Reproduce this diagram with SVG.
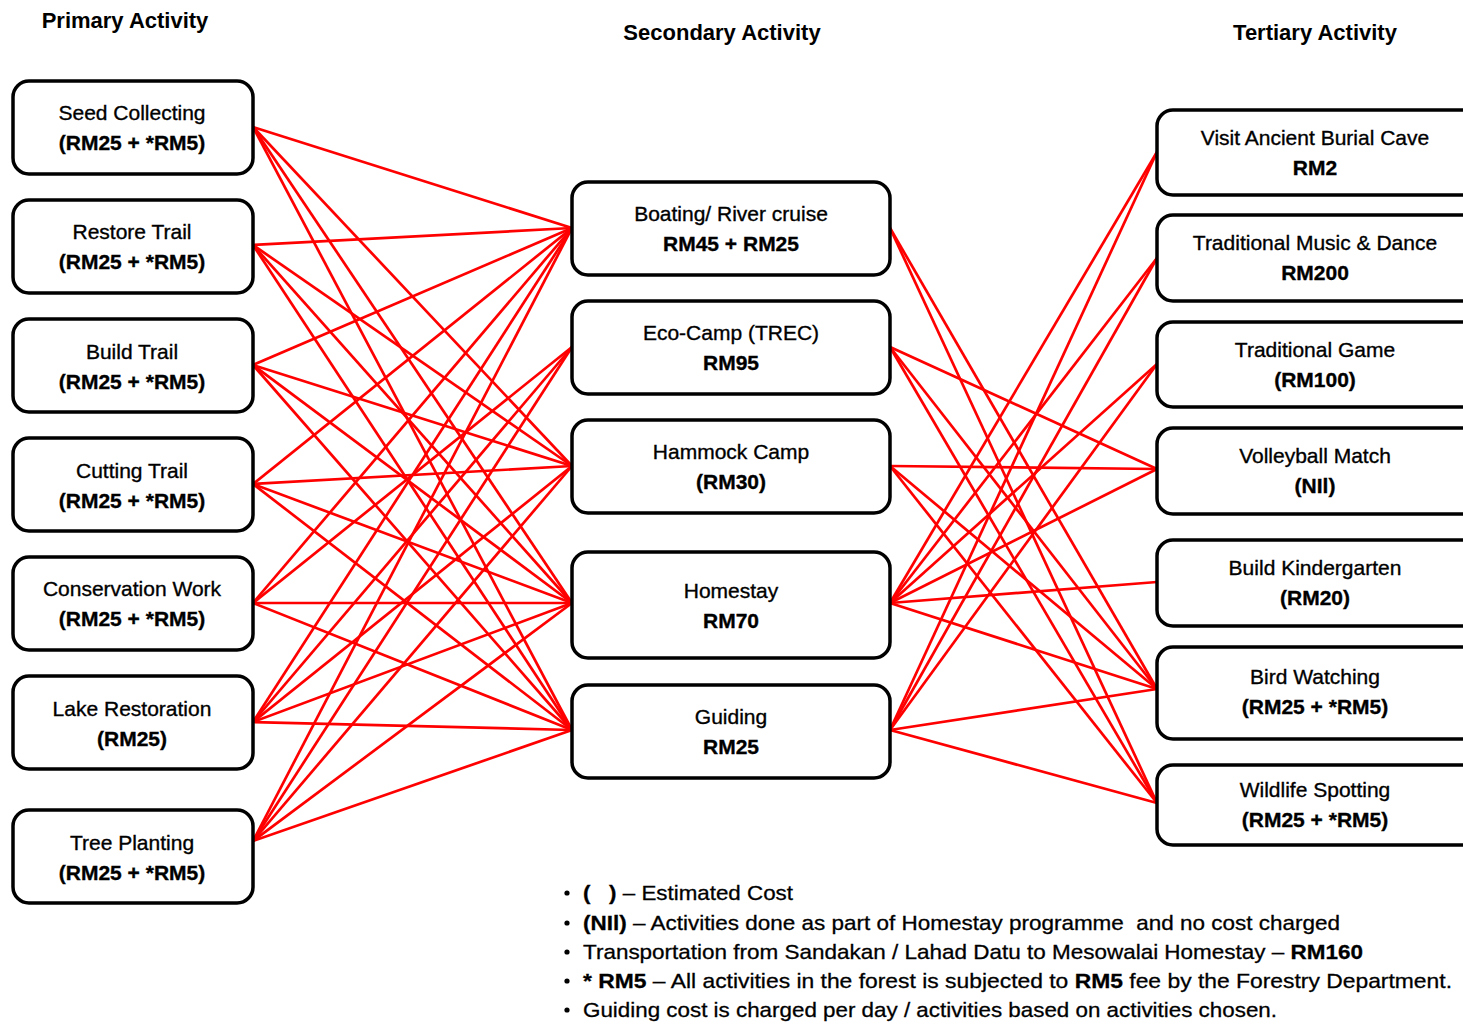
<svg xmlns="http://www.w3.org/2000/svg" width="1463" height="1024" viewBox="0 0 1463 1024">
  <style>
    .box { fill: #ffffff; stroke: #000000; stroke-width: 3.5; }
    .t { font-family: "Liberation Sans", Arial, sans-serif; font-size: 21px; fill: #000000; stroke: #000000; stroke-width: 0.35; text-anchor: middle; }
    .b { font-weight: bold; }
    .title { font-family: "Liberation Sans", Arial, sans-serif; font-size: 22px; font-weight: bold; fill: #000000; text-anchor: middle; }
    .leg { font-family: "Liberation Sans", Arial, sans-serif; font-size: 21px; fill: #000000; stroke: #000000; stroke-width: 0.3; }
    .links line { stroke: #ff0000; stroke-width: 2.7; }
  </style>

  <rect width="1463" height="1024" fill="#ffffff"/>

  <!-- column headings -->
  <text class="title" x="125" y="28">Primary Activity</text>
  <text class="title" x="722" y="40">Secondary Activity</text>
  <text class="title" x="1315" y="40">Tertiary Activity</text>

  <!-- connectors: primary -> secondary -> tertiary -->
  <g id="connectors" class="links">
    <!-- Seed Collecting -->
    <line x1="253" y1="127" x2="572" y2="228"/>
    <line x1="253" y1="127" x2="572" y2="466"/>
    <line x1="253" y1="127" x2="572" y2="603"/>
    <line x1="253" y1="127" x2="572" y2="730"/>
    <!-- Restore Trail -->
    <line x1="253" y1="245" x2="572" y2="228"/>
    <line x1="253" y1="245" x2="572" y2="466"/>
    <line x1="253" y1="245" x2="572" y2="603"/>
    <line x1="253" y1="245" x2="572" y2="730"/>
    <!-- Build Trail -->
    <line x1="253" y1="365" x2="572" y2="228"/>
    <line x1="253" y1="365" x2="572" y2="466"/>
    <line x1="253" y1="365" x2="572" y2="603"/>
    <line x1="253" y1="365" x2="572" y2="730"/>
    <!-- Cutting Trail -->
    <line x1="253" y1="484" x2="572" y2="228"/>
    <line x1="253" y1="484" x2="572" y2="466"/>
    <line x1="253" y1="484" x2="572" y2="603"/>
    <line x1="253" y1="484" x2="572" y2="730"/>
    <!-- Conservation Work -->
    <line x1="253" y1="603" x2="572" y2="228"/>
    <line x1="253" y1="603" x2="572" y2="347"/>
    <line x1="253" y1="603" x2="572" y2="603"/>
    <line x1="253" y1="603" x2="572" y2="730"/>
    <!-- Lake Restoration -->
    <line x1="253" y1="722" x2="572" y2="228"/>
    <line x1="253" y1="722" x2="572" y2="347"/>
    <line x1="253" y1="722" x2="572" y2="466"/>
    <line x1="253" y1="722" x2="572" y2="603"/>
    <line x1="253" y1="722" x2="572" y2="730"/>
    <!-- Tree Planting -->
    <line x1="253" y1="841" x2="572" y2="228"/>
    <line x1="253" y1="841" x2="572" y2="347"/>
    <line x1="253" y1="841" x2="572" y2="466"/>
    <line x1="253" y1="841" x2="572" y2="603"/>
    <line x1="253" y1="841" x2="572" y2="730"/>

    <!-- Boating / River cruise -->
    <line x1="890" y1="228" x2="1157" y2="689"/>
    <line x1="890" y1="228" x2="1157" y2="803"/>
    <!-- Eco-Camp -->
    <line x1="890" y1="347" x2="1157" y2="469"/>
    <line x1="890" y1="347" x2="1157" y2="689"/>
    <line x1="890" y1="347" x2="1157" y2="803"/>
    <!-- Hammock Camp -->
    <line x1="890" y1="466" x2="1157" y2="469"/>
    <line x1="890" y1="466" x2="1157" y2="689"/>
    <line x1="890" y1="466" x2="1157" y2="803"/>
    <!-- Homestay -->
    <line x1="890" y1="603" x2="1157" y2="152"/>
    <line x1="890" y1="603" x2="1157" y2="258"/>
    <line x1="890" y1="603" x2="1157" y2="364"/>
    <line x1="890" y1="603" x2="1157" y2="469"/>
    <line x1="890" y1="603" x2="1157" y2="582"/>
    <line x1="890" y1="603" x2="1157" y2="689"/>
    <!-- Guiding -->
    <line x1="890" y1="730" x2="1157" y2="152"/>
    <line x1="890" y1="730" x2="1157" y2="258"/>
    <line x1="890" y1="730" x2="1157" y2="364"/>
    <line x1="890" y1="730" x2="1157" y2="689"/>
    <line x1="890" y1="730" x2="1157" y2="803"/>
  </g>

  <!-- primary activities -->
  <g id="seed-collecting">
    <rect class="box" x="13" y="81" width="240" height="93" rx="16"/>
    <text class="t" x="132" y="120">Seed Collecting</text>
    <text class="t b" x="132" y="150">(RM25 + *RM5)</text>
  </g>
  <g id="restore-trail">
    <rect class="box" x="13" y="200" width="240" height="93" rx="16"/>
    <text class="t" x="132" y="239">Restore Trail</text>
    <text class="t b" x="132" y="269">(RM25 + *RM5)</text>
  </g>
  <g id="build-trail">
    <rect class="box" x="13" y="319" width="240" height="93" rx="16"/>
    <text class="t" x="132" y="359">Build Trail</text>
    <text class="t b" x="132" y="389">(RM25 + *RM5)</text>
  </g>
  <g id="cutting-trail">
    <rect class="box" x="13" y="438" width="240" height="93" rx="16"/>
    <text class="t" x="132" y="478">Cutting Trail</text>
    <text class="t b" x="132" y="508">(RM25 + *RM5)</text>
  </g>
  <g id="conservation-work">
    <rect class="box" x="13" y="557" width="240" height="93" rx="16"/>
    <text class="t" x="132" y="596">Conservation Work</text>
    <text class="t b" x="132" y="626">(RM25 + *RM5)</text>
  </g>
  <g id="lake-restoration">
    <rect class="box" x="13" y="676" width="240" height="93" rx="16"/>
    <text class="t" x="132" y="716">Lake Restoration</text>
    <text class="t b" x="132" y="746">(RM25)</text>
  </g>
  <g id="tree-planting">
    <rect class="box" x="13" y="810" width="240" height="93" rx="16"/>
    <text class="t" x="132" y="850">Tree Planting</text>
    <text class="t b" x="132" y="880">(RM25 + *RM5)</text>
  </g>

  <!-- secondary activities -->
  <g id="boating">
    <rect class="box" x="572" y="182" width="318" height="93" rx="16"/>
    <text class="t" x="731" y="221">Boating/ River cruise</text>
    <text class="t b" x="731" y="251">RM45 + RM25</text>
  </g>
  <g id="eco-camp">
    <rect class="box" x="572" y="301" width="318" height="93" rx="16"/>
    <text class="t" x="731" y="340">Eco-Camp (TREC)</text>
    <text class="t b" x="731" y="370">RM95</text>
  </g>
  <g id="hammock-camp">
    <rect class="box" x="572" y="420" width="318" height="93" rx="16"/>
    <text class="t" x="731" y="459">Hammock Camp</text>
    <text class="t b" x="731" y="489">(RM30)</text>
  </g>
  <g id="homestay">
    <rect class="box" x="572" y="552" width="318" height="106" rx="16"/>
    <text class="t" x="731" y="598">Homestay</text>
    <text class="t b" x="731" y="628">RM70</text>
  </g>
  <g id="guiding">
    <rect class="box" x="572" y="685" width="318" height="93" rx="16"/>
    <text class="t" x="731" y="724">Guiding</text>
    <text class="t b" x="731" y="754">RM25</text>
  </g>

  <!-- tertiary activities -->
  <g id="burial-cave">
    <rect class="box" x="1157" y="110" width="330" height="85" rx="16"/>
    <text class="t" x="1315" y="145">Visit Ancient Burial Cave</text>
    <text class="t b" x="1315" y="175">RM2</text>
  </g>
  <g id="music-dance">
    <rect class="box" x="1157" y="215" width="330" height="86" rx="16"/>
    <text class="t" x="1315" y="250">Traditional Music &amp; Dance</text>
    <text class="t b" x="1315" y="280">RM200</text>
  </g>
  <g id="traditional-game">
    <rect class="box" x="1157" y="322" width="330" height="85" rx="16"/>
    <text class="t" x="1315" y="357">Traditional Game</text>
    <text class="t b" x="1315" y="387">(RM100)</text>
  </g>
  <g id="volleyball">
    <rect class="box" x="1157" y="428" width="330" height="86" rx="16"/>
    <text class="t" x="1315" y="463">Volleyball Match</text>
    <text class="t b" x="1315" y="493">(NIl)</text>
  </g>
  <g id="kindergarten">
    <rect class="box" x="1157" y="540" width="330" height="86" rx="16"/>
    <text class="t" x="1315" y="575">Build Kindergarten</text>
    <text class="t b" x="1315" y="605">(RM20)</text>
  </g>
  <g id="bird-watching">
    <rect class="box" x="1157" y="647" width="330" height="92" rx="16"/>
    <text class="t" x="1315" y="684">Bird Watching</text>
    <text class="t b" x="1315" y="714">(RM25 + *RM5)</text>
  </g>
  <g id="wildlife-spotting">
    <rect class="box" x="1157" y="765" width="330" height="80" rx="16"/>
    <text class="t" x="1315" y="797">Wildlife Spotting</text>
    <text class="t b" x="1315" y="827">(RM25 + *RM5)</text>
  </g>

  <!-- notes -->
  <g id="notes">
    <g fill="#000000">
      <circle cx="567" cy="893" r="2.6"/>
      <circle cx="567" cy="923" r="2.6"/>
      <circle cx="567" cy="952" r="2.6"/>
      <circle cx="567" cy="981" r="2.6"/>
      <circle cx="567" cy="1010" r="2.6"/>
    </g>
    <text class="leg" x="583" y="900" textLength="210" lengthAdjust="spacingAndGlyphs"><tspan class="b">(&#160;&#160;&#160;)</tspan> – Estimated Cost</text>
    <text class="leg" x="583" y="930" textLength="757" lengthAdjust="spacingAndGlyphs"><tspan class="b">(NIl)</tspan> – Activities done as part of Homestay programme &#160;and no cost charged</text>
    <text class="leg" x="583" y="959" textLength="780" lengthAdjust="spacingAndGlyphs">Transportation from Sandakan / Lahad Datu to Mesowalai Homestay – <tspan class="b">RM160</tspan></text>
    <text class="leg" x="583" y="988" textLength="869" lengthAdjust="spacingAndGlyphs"><tspan class="b">* RM5</tspan> – All activities in the forest is subjected to <tspan class="b">RM5</tspan> fee by the Forestry Department.</text>
    <text class="leg" x="583" y="1017" textLength="694" lengthAdjust="spacingAndGlyphs">Guiding cost is charged per day / activities based on activities chosen.</text>
  </g>
</svg>
